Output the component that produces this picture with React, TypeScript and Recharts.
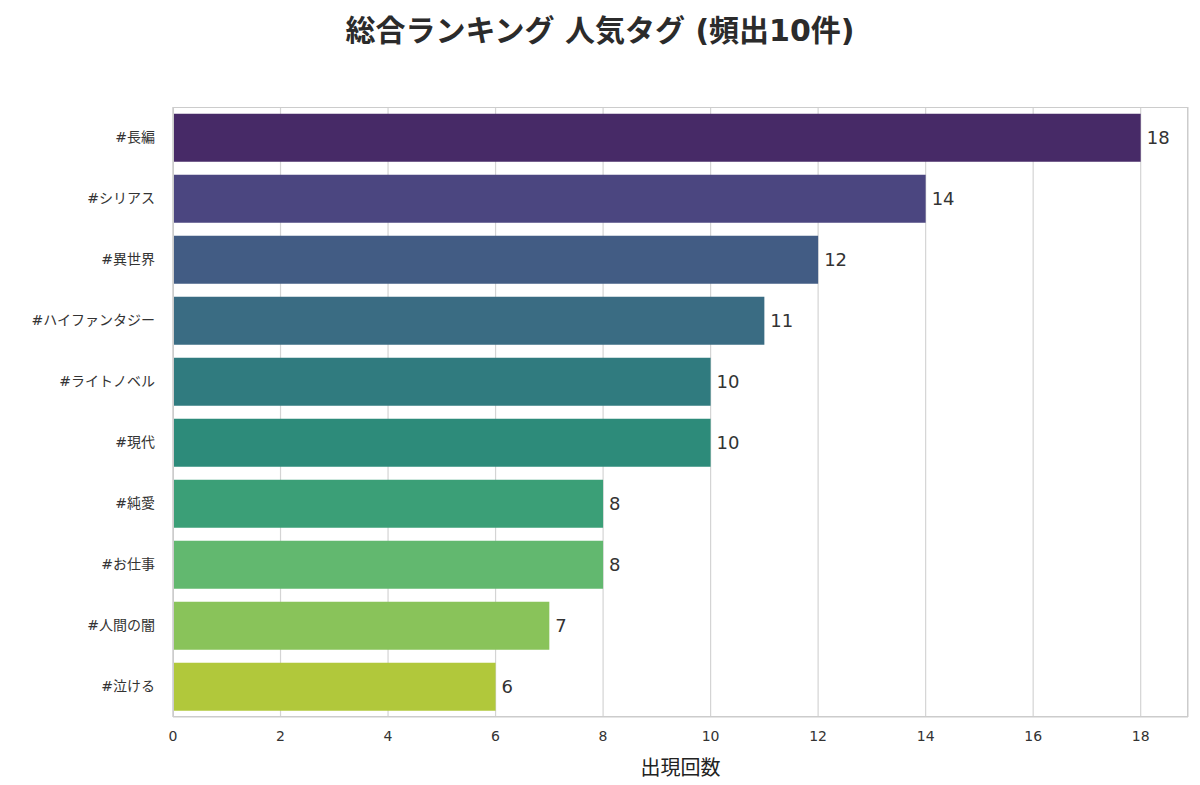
import { Bar, BarChart, CartesianGrid, Cell, LabelList, XAxis, YAxis } from 'recharts';

const tags = ['#長編', '#シリアス', '#異世界', '#ハイファンタジー', '#ライトノベル', '#現代', '#純愛', '#お仕事', '#人間の闇', '#泣ける'];
const counts = [18, 14, 12, 11, 10, 10, 8, 8, 7, 6];
const colors = ['#472a67', '#4b4680', '#425c84', '#3a6c83', '#307b7f', '#2d8b7a', '#3b9f77', '#62b86f', '#89c35a', '#b1c83b'];
const xTicks = [0, 2, 4, 6, 8, 10, 12, 14, 16, 18];

const FONT = '"DejaVu Sans", "Noto Sans CJK JP", sans-serif';

export default function App() {
  const chartData = tags.map((tag, i) => ({ tag, count: counts[i] }));

  return (
    <div style={{ position: 'absolute', left: 0, top: 0, width: 1200, height: 785, background: '#fff', fontFamily: FONT }}>
      <div style={{ position: 'absolute', top: 6, width: 1200, textAlign: 'center', fontSize: 30, fontWeight: 'bold', color: '#2b2b2b' }}>
        総合ランキング 人気タグ (頻出10件)
      </div>
      <BarChart
        width={1200}
        height={785}
        data={chartData}
        layout="vertical"
        margin={{ top: 107, right: 12, bottom: 0, left: 0 }}
        barCategoryGap="11%"
      >
        <CartesianGrid horizontal={false} stroke="#d4d4d4" strokeWidth={1.2} />
        <XAxis
          type="number"
          domain={[0, 18.88]}
          ticks={xTicks}
          tickLine={false}
          axisLine={{ stroke: '#cccccc' }}
          fontSize={14}
          tick={{ fill: '#333' }}
          tickMargin={8}
          label={{ value: '出現回数', position: 'insideBottom', offset: 10, fontSize: 20, fill: '#222' }}
          height={68}
        />
        <YAxis
          type="category"
          dataKey="tag"
          width={173}
          tickLine={false}
          axisLine={{ stroke: '#cccccc' }}
          fontSize={14}
          tick={{ fill: '#333' }}
          tickMargin={12}
        />
        <Bar dataKey="count" isAnimationActive={false}>
          {chartData.map((d, i) => (
            <Cell key={d.tag} fill={colors[i]} />
          ))}
          <LabelList dataKey="count" position="right" offset={6} fontSize={18} fill="#333" />
        </Bar>
      </BarChart>
      <div style={{ position: 'absolute', left: 173, top: 107, width: 1015, height: 610, border: '1.5px solid #cccccc', boxSizing: 'border-box', pointerEvents: 'none' }} />
    </div>
  );
}
